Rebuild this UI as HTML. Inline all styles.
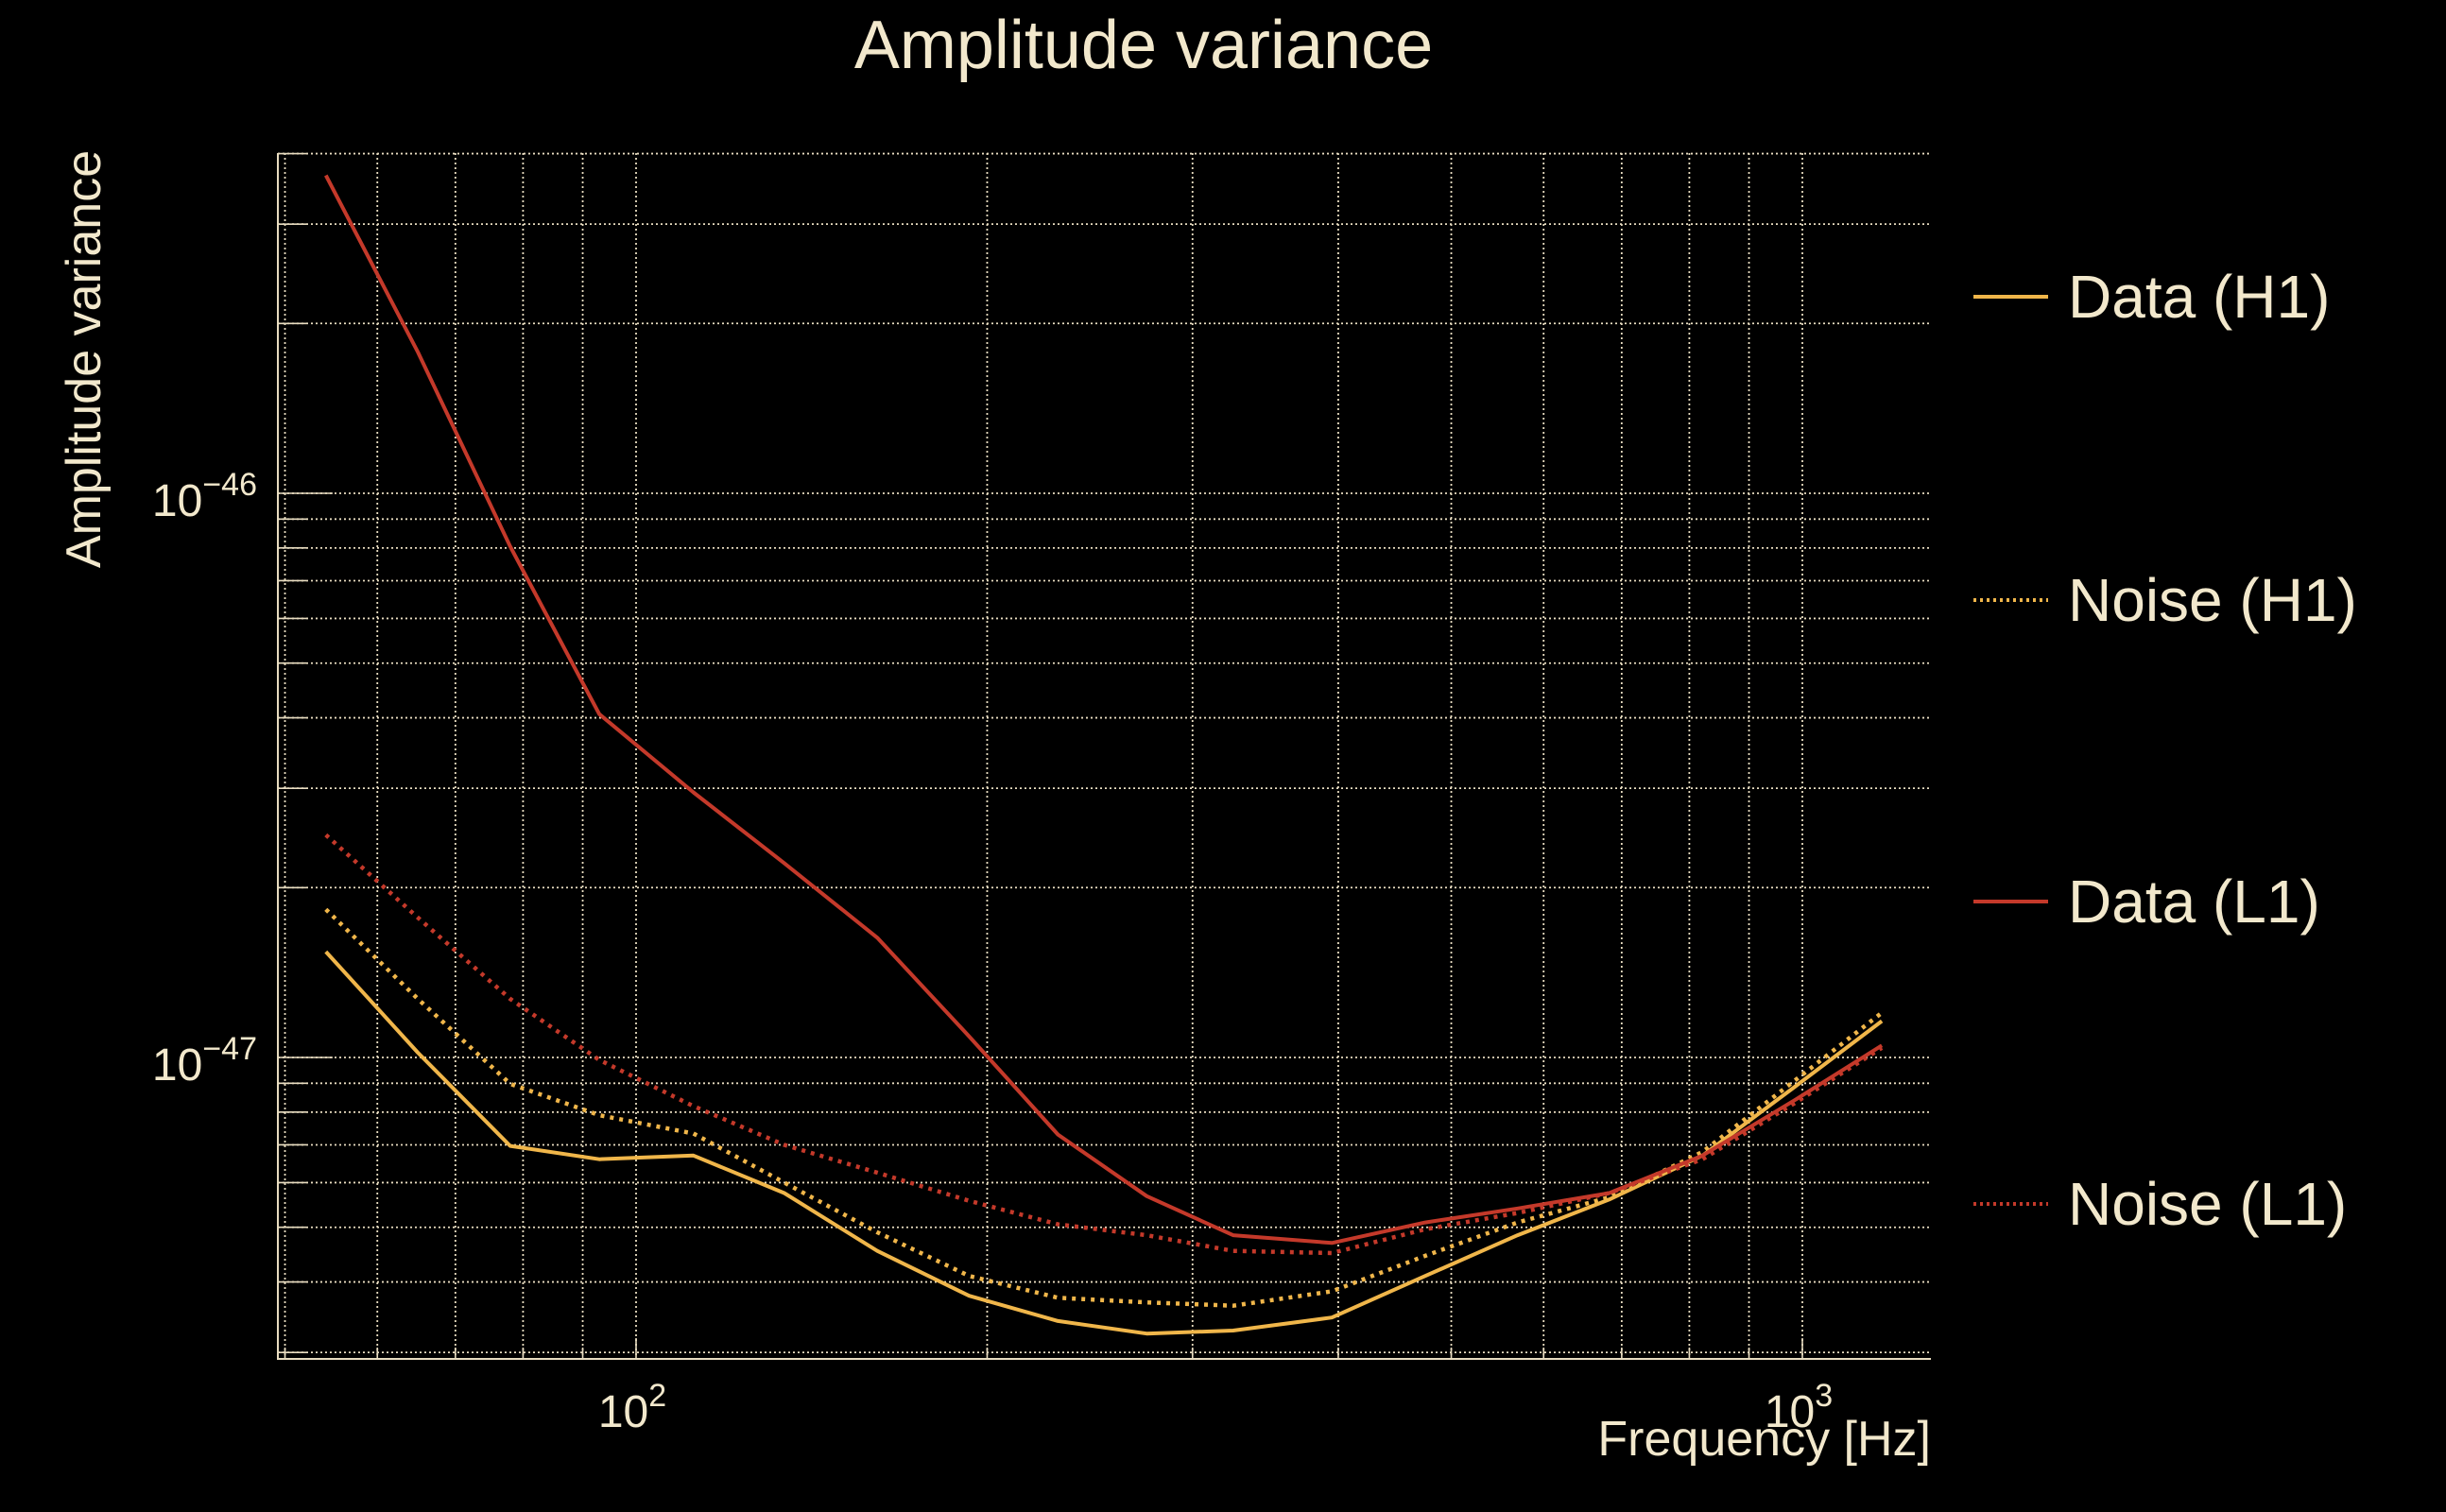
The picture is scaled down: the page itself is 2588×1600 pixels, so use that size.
<!DOCTYPE html>
<html><head><meta charset="utf-8"><style>
html,body{margin:0;padding:0;background:#000;}
svg{display:block;}
text{font-family:"Liberation Sans",sans-serif;fill:#f2e8cc;}
</style></head><body>
<svg id="chart" width="2588" height="1600" viewBox="0 0 2588 1600" xmlns="http://www.w3.org/2000/svg">
<rect width="2588" height="1600" fill="#000"/>
<text x="1210" y="72" font-size="72" text-anchor="middle">Amplitude variance</text>
<g id="grid"></g>
<g id="series"></g>
<g id="axes"></g>
<text x="2043" y="1540" font-size="52" text-anchor="end">Frequency [Hz]</text>
<text transform="translate(106,380) rotate(-90)" font-size="52" text-anchor="middle">Amplitude variance</text>
<g id="legend"></g>
</svg>
<script>
const freqs = [54.2,65,78,93,112,134,161,193,230,274,325,395,475,570,683,821,985,1170];
const dataH1 = [1.54e-47,1.02e-47,6.97e-48,6.6e-48,6.7e-48,5.75e-48,4.54e-48,3.78e-48,3.41e-48,3.24e-48,3.28e-48,3.46e-48,4.1e-48,4.84e-48,5.6e-48,6.7e-48,8.87e-48,1.16e-47];
const noiseH1 = [1.83e-47,1.27e-47,8.98e-48,7.9e-48,7.33e-48,6.0e-48,4.9e-48,4.1e-48,3.75e-48,3.68e-48,3.63e-48,3.85e-48,4.45e-48,5.1e-48,5.65e-48,6.8e-48,9.1e-48,1.2e-47];
const dataL1 = [3.66e-46,1.78e-46,8.05e-47,4.06e-47,2.95e-47,2.21e-47,1.63e-47,1.09e-47,7.3e-48,5.68e-48,4.84e-48,4.69e-48,5.1e-48,5.4e-48,5.75e-48,6.7e-48,8.4e-48,1.05e-47];
const noiseL1 = [2.48e-47,1.77e-47,1.27e-47,9.9e-48,8.2e-48,7.0e-48,6.25e-48,5.57e-48,5.06e-48,4.84e-48,4.54e-48,4.5e-48,4.96e-48,5.3e-48,5.75e-48,6.6e-48,8.3e-48,1.04e-47];
const seriesNames = ["Data (H1)","Noise (H1)","Data (L1)","Noise (L1)"];
const xTickLabels = ["2","3"];
const yTickLabels = ["−46","−47"];

const NS="http://www.w3.org/2000/svg";
const L=294,R=2043,T=162,B=1438;
const X0=673, XDEC=1234, Y0=522, YDEC=597;
function xs(f){return X0+(Math.log10(f)-2)*XDEC;}
function ys(v){return Y0-(Math.log10(v)+46)*YDEC;}
function mk(tag,attrs,parent){const e=document.createElementNS(NS,tag);for(const k in attrs)e.setAttribute(k,attrs[k]);parent.appendChild(e);return e;}
const grid=document.getElementById('grid'), axes=document.getElementById('axes'), ser=document.getElementById('series'), leg=document.getElementById('legend');
const gc="#e8dcc0";
for(let d=1;d<=3;d++){for(let m=1;m<10;m++){const f=m*Math.pow(10,d);const x=xs(f);if(x<L||x>R)continue;
 const g=mk('line',{x1:x,x2:x,y1:T,y2:B,stroke:gc,'stroke-width':1.8,'stroke-dasharray':'2,3'},grid);
 
 
 const t=mk('line',{x1:x,x2:x,y1:B,y2:B-(m===1?22:12),stroke:gc,'stroke-width':1.6},axes);
 
 
}}
for(let d=-49;d<=-46;d++){for(let m=1;m<10;m++){const v=m*Math.pow(10,d);const y=ys(v);if(y<T||y>B)continue;
 const g=mk('line',{x1:L,x2:R,y1:y,y2:y,stroke:gc,'stroke-width':1.8,'stroke-dasharray':'2,3'},grid);
 
 
 const t=mk('line',{x1:L,x2:L+(m===1?58:30),y1:y,y2:y,stroke:gc,'stroke-width':1.6},axes);
 
 
}}
const ax=mk('path',{d:`M${L},${T} L${L},${B} L${R},${B}`,fill:'none',stroke:gc,'stroke-width':2},axes);


xTickLabels.forEach((p,i)=>{const x=xs(Math.pow(10,i+2));
 const t=mk('text',{x:x-4,y:1510,'font-size':48,'text-anchor':'middle'},axes);
 
 
 t.innerHTML='10<tspan font-size="34" dy="-22">'+p+'</tspan>';
});
yTickLabels.forEach((p,i)=>{const y=ys(Math.pow(10,-46-i));
 const t=mk('text',{x:272,y:y+24,'font-size':48,'text-anchor':'end'},axes);
 
 
 t.innerHTML='10<tspan font-size="34" dy="-22">'+p+'</tspan>';
});
const YEL="#f0b64a", RED="#c4392a";
const defs=[[dataH1,YEL,null],[noiseH1,YEL,'4,6'],[dataL1,RED,null],[noiseL1,RED,'4,6']];
defs.forEach((s,i)=>{
 const d=freqs.map((f,j)=>(j?'L':'M')+xs(f).toFixed(1)+','+ys(s[0][j]).toFixed(1)).join(' ');
 const a={d:d,fill:'none',stroke:s[1],'stroke-width':s[2]?4.5:4,'stroke-linejoin':'round'};
 if(s[2])a['stroke-dasharray']=s[2];
 const p=mk('path',a,ser);
 
 
 const ly=[314,635,954,1274][i];
 const la={x1:2088,x2:2167,y1:ly,y2:ly,stroke:s[1],'stroke-width':4};
 if(s[2])la['stroke-dasharray']='3,4';
 const l=mk('line',la,leg);
 
 
 const t=mk('text',{x:2188,y:ly+22,'font-size':64},leg);
 
 
 t.textContent=seriesNames[i];
});
</script>
</body></html>
